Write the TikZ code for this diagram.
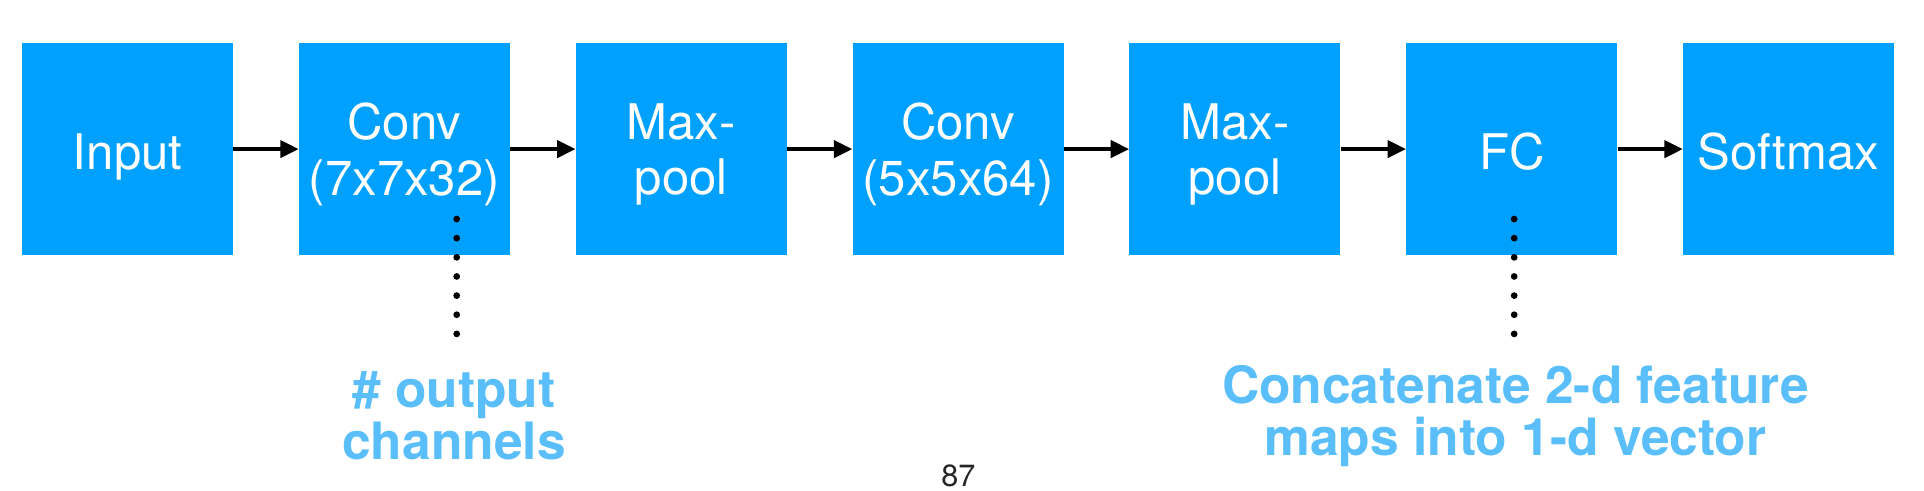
\documentclass[tikz,border=0pt]{standalone}
\usepackage{fontspec}
\setmainfont{TeX Gyre Heros}
\usetikzlibrary{arrows.meta}
\definecolor{boxblue}{RGB}{0,160,255}
\definecolor{noteblue}{RGB}{90,190,250}
\begin{document}
\begin{tikzpicture}[x=1pt,y=-1pt,
  layer/.style={fill=boxblue, text=white, minimum width=172pt, minimum height=173pt,
    inner sep=0pt, align=center, text depth=0pt, font=\fontsize{40}{45}\selectfont},
  single/.style={layer, text height=33pt},
  flow/.style={line width=3pt, -{Triangle[length=15pt,width=14pt]}},
  dotline/.style={line width=5.5pt, line cap=round, dash pattern=on 0pt off 15.6pt},
  note/.style={text=noteblue, align=center, font=\fontsize{42}{42}\selectfont\bfseries}]
\useasboundingbox (0,0) rectangle (1568,400);
\node[single] (in)  at (104,121.5)    {Input};
\node[layer]  (c1)  at (329.6,121.5)  {Conv\\(7x7x32)};
\node[layer]  (p1)  at (555.2,121.5)  {Max-\\pool};
\node[layer]  (c2)  at (780.8,121.5)  {Conv\\(5x5x64)};
\node[layer]  (p2)  at (1006.4,121.5) {Max-\\pool};
\node[single] (fc)  at (1232,121.5)   {FC};
\node[single] (sm)  at (1457.6,121.5) {Softmax};
\draw[flow] (in) -- (c1);
\draw[flow] (c1) -- (p1);
\draw[flow] (p1) -- (c2);
\draw[flow] (c2) -- (p2);
\draw[flow] (p2) -- (fc);
\draw[flow] (fc) -- (sm);
\coordinate (d1a) at (372.2,178.5);
\coordinate (d1b) at (372.2,273);
\coordinate (d2a) at (1234,178.5);
\coordinate (d2b) at (1234,273);
\draw[dotline] (d1a) -- (d1b);
\draw[dotline] (d2a) -- (d2b);
\node[note] (n1) at (370,339) {\# output\\channels};
\node[note] (n2) at (1235,339) {Concatenate 2-d feature\\maps into 1-d vector};
\node[font=\fontsize{25}{25}\selectfont, text=black!85] (pg) at (781,388) {87};
\end{tikzpicture}
\end{document}
